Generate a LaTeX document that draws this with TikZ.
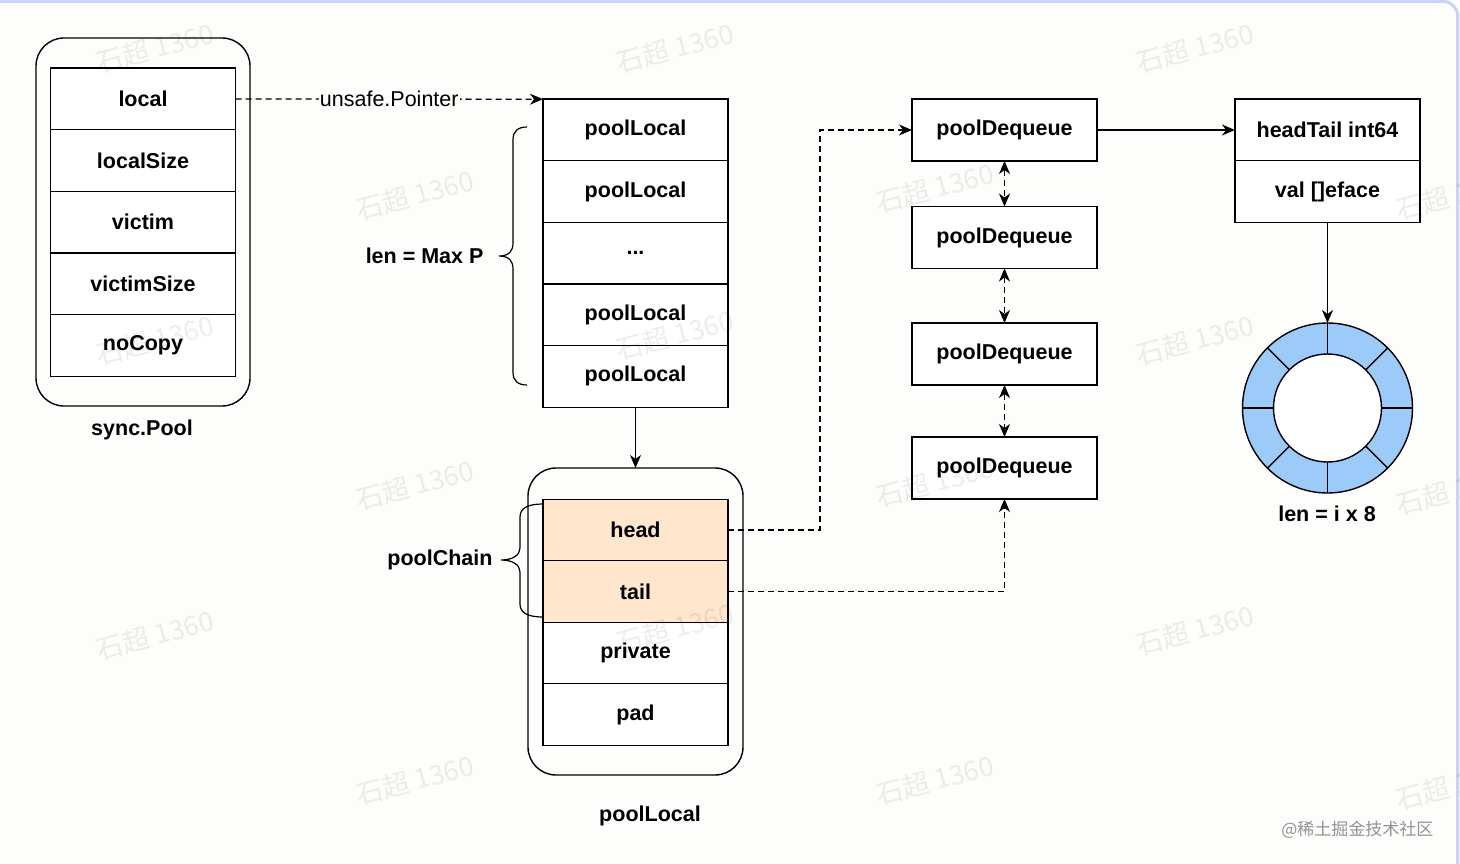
\documentclass[tikz,border=0pt]{standalone}
\usepackage{fontspec}
\setmainfont{Liberation Sans}
\newfontfamily\cjkfont{Noto Sans CJK SC}
\usetikzlibrary{arrows.meta,positioning}
\definecolor{peach}{HTML}{FFE6CC}
\definecolor{ringblue}{HTML}{9DCBF9}
\definecolor{framebl}{HTML}{C9D3F7}
\definecolor{paper}{HTML}{FDFDFC}
\tikzset{
	cell/.style={draw,fill=white,line width=1.4pt,minimum width=185pt,minimum height=61.6pt,inner sep=0pt,outer sep=0pt,font=\fontsize{21.5}{25}\selectfont\bfseries},
	holder/.style={draw,line width=1.4pt,rounded corners=28pt,inner sep=0pt,outer sep=0pt},
	lbl/.style={font=\fontsize{21.5}{25}\selectfont\bfseries},
	dashline/.style={line width=1.3pt,dash pattern=on 6pt off 4pt},
	arr/.style={-{Stealth[length=13pt,width=11pt,inset=4pt]}},
	twoarr/.style={{Stealth[length=13pt,width=11pt,inset=4pt]}-{Stealth[length=13pt,width=11pt,inset=4pt]}},
	wmark/.style={font=\cjkfont\fontsize{27}{30}\selectfont,text=black,text opacity=0.07,rotate=15}
}
\begin{document}
\begin{tikzpicture}[x=1pt,y=-1pt]
	\useasboundingbox (0,0) rectangle (1460,864);
	\clip (0,0) rectangle (1460,864);
	\fill[paper] (0,0) rectangle (1460,864);
	\draw[framebl,line width=3pt,rounded corners=14pt] (-40,1.5) rectangle (1457.5,920);

	\node[holder,minimum width=214pt,minimum height=368pt] (pool) at (143,222) {};
	\node[cell] (local) at (143,99) {local};
	\node[cell,below=0pt of local] (lsize) {localSize};
	\node[cell,below=0pt of lsize] (victim) {victim};
	\node[cell,below=0pt of victim] (vsize) {victimSize};
	\node[cell,below=0pt of vsize] (nocopy) {noCopy};
	\node[lbl] (poolname) at (142,430) {sync.Pool};

	\node[cell] (pl1) at (635.5,130) {poolLocal};
	\node[cell,below=0pt of pl1] (pl2) {poolLocal};
	\node[cell,below=0pt of pl2] (pl3) {...};
	\node[cell,below=0pt of pl3] (pl4) {poolLocal};
	\node[cell,below=0pt of pl4] (pl5) {poolLocal};
	\node[lbl,anchor=east] (maxp) at (487,256) {len = Max P};
	\draw[line width=1.2pt]
	(527,127) .. controls (518,127) and (513,131) .. (513,140) -- (513,243)
	.. controls (513,251) and (509,256) .. (499,256)
	.. controls (509,256) and (513,261) .. (513,269) -- (513,372)
	.. controls (513,381) and (518,385) .. (527,385);
	\draw[dashline,arr] (local.east) -- node[fill=paper,inner sep=1pt,font=\fontsize{21.5}{25}\selectfont] (ptr) {unsafe.Pointer} (pl1.north west);

	\node[holder,minimum width=215pt,minimum height=307pt] (lp) at (635.5,621.5) {};
	\node[cell,fill=peach,minimum height=61.5pt] (head) at (635.5,530) {head};
	\node[cell,fill=peach,minimum height=61.5pt,below=0pt of head] (tail) {tail};
	\node[cell,minimum height=61.5pt,below=0pt of tail] (private) {private};
	\node[cell,minimum height=61.5pt,below=0pt of private] (pad) {pad};
	\node[lbl] (lpname) at (650,816) {poolLocal};
	\node[lbl,anchor=east] (chain) at (496,560) {poolChain};
	\draw[line width=1.2pt]
	(543,504) .. controls (528,504) and (520,508) .. (520,517) -- (520,548)
	.. controls (520,555) and (513,560) .. (501,560)
	.. controls (513,560) and (520,565) .. (520,572) -- (520,604)
	.. controls (520,613) and (528,617) .. (543,617);
	\draw[line width=1.3pt,arr] (pl5.south) -- (lp.north);

	\node[cell,minimum height=62pt] (dq1) at (1004.5,130) {poolDequeue};
	\node[cell,minimum height=62pt] (dq2) at (1004.5,237.5) {poolDequeue};
	\node[cell,minimum height=62pt] (dq3) at (1004.5,354) {poolDequeue};
	\node[cell,minimum height=62pt] (dq4) at (1004.5,468) {poolDequeue};
	\draw[dashline,twoarr] (dq1.south) -- (dq2.north);
	\draw[dashline,twoarr] (dq2.south) -- (dq3.north);
	\draw[dashline,twoarr] (dq3.south) -- (dq4.north);
	\draw[dashline,arr] (head.east) -- (820,530) |- (dq1.west);
	\draw[dashline,arr] (tail.east) -| (dq4.south);

	\node[cell] (ht) at (1327.5,130) {headTail int64};
	\node[cell,below=0pt of ht] (val) {val []eface};
	\draw[line width=1.3pt,arr] (dq1.east) -- (ht.west);
	\node[circle,draw,fill=ringblue,line width=1.4pt,minimum size=170pt,inner sep=0pt,outer sep=0pt] (ring) at (1327.5,408) {};
	\node[circle,draw,fill=white,line width=1.4pt,minimum size=108pt,inner sep=0pt] (hole) at (ring) {};
	\foreach \a in {0,45,...,315}
	\draw[line width=1.4pt] (ring.center) ++(\a:54pt) -- ++(\a:31pt);
	\draw[line width=1.3pt,arr] (val.south) -- (ring.north);
	\node[lbl] (ringlen) at (1327,514) {len = i x 8};

	\node[font=\cjkfont\fontsize{17}{20}\selectfont,text=gray!85,anchor=east] (credit) at (1437,830) {@稀土掘金技术社区};
	\foreach \x/\y in {155/48,675/48,1195/48,155/340,675/335,1195/340,155/635,675/628,1195/630,
		415/195,935/188,1455/195,415/485,935/482,1455/490,415/780,935/780,1455/785}
	\node[wmark] (wm-\x-\y) at (\x,\y) {石超 1360};
\end{tikzpicture}
\end{document}
